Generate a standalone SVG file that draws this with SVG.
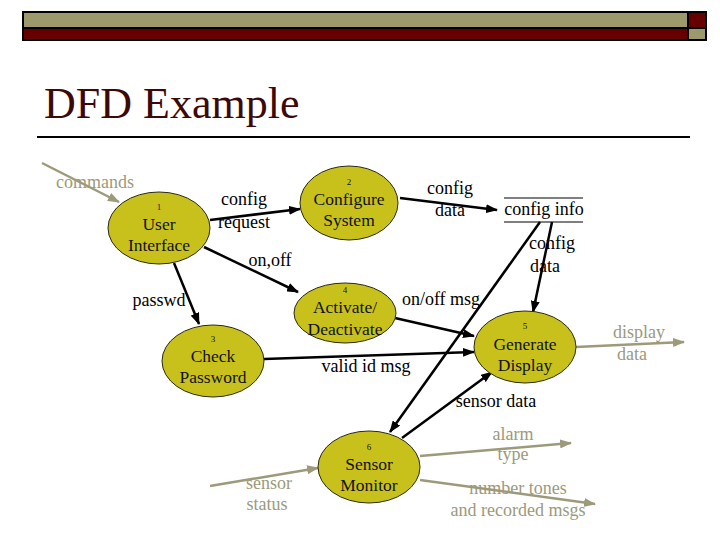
<svg xmlns="http://www.w3.org/2000/svg" width="720" height="540" viewBox="0 0 720 540">
<style>
text{font-family:'Liberation Serif','Times New Roman',Times,serif}
.node{fill:#c8c11c;stroke:#2a2a10;stroke-width:1}
.t{font-size:17.5px;fill:#111;text-anchor:middle}
.num{font-size:9px;fill:#111;text-anchor:middle}
.lab{font-size:18px;fill:#000;text-anchor:middle}
.ext{font-size:18px;fill:#9c9a7a;text-anchor:middle}
.title{font-size:44px;fill:#3d0808}
.f{stroke:#000;stroke-width:2.5;fill:none;marker-end:url(#ab)}
.x{stroke:#9c9a7a;stroke-width:2.5;fill:none;marker-end:url(#ak)}
</style>
<defs>
<marker id="ab" markerUnits="userSpaceOnUse" markerWidth="12" markerHeight="9" refX="11" refY="4.5" orient="auto"><path d="M0,0 L12,4.5 L0,9 z" fill="#000"/></marker>
<marker id="ak" markerUnits="userSpaceOnUse" markerWidth="12" markerHeight="9" refX="11" refY="4.5" orient="auto"><path d="M0,0 L12,4.5 L0,9 z" fill="#9c9a7a"/></marker>
</defs>
<rect width="720" height="540" fill="#fff"/>
<g id="header">
<rect x="22" y="11" width="685" height="30" fill="#000"/>
<rect x="24" y="13" width="663" height="14" fill="#9c9a6c"/>
<rect x="24" y="29" width="663" height="10" fill="#660000"/>
<rect x="689" y="13" width="16" height="14" fill="#660000"/>
<rect x="689" y="29" width="16" height="10" fill="#9c9a6c"/>
<text class="title" x="44" y="118">DFD Example</text>
<line x1="37" y1="137" x2="690" y2="137" stroke="#000" stroke-width="2"/>
</g>
<g id="connectors">
<line class="x" x1="42" y1="163" x2="119" y2="202"/>
<line class="f" x1="210" y1="220" x2="300" y2="209"/>
<line class="f" x1="204" y1="247" x2="298" y2="292"/>
<line class="f" x1="174" y1="263" x2="199" y2="324"/>
<line class="f" x1="400" y1="198" x2="497" y2="210"/>
<line class="f" x1="552" y1="222" x2="533" y2="312"/>
<line class="f" x1="540" y1="222" x2="390" y2="432"/>
<line class="f" x1="395" y1="318" x2="474" y2="336"/>
<line class="f" x1="264" y1="359" x2="474" y2="352"/>
<line class="f" x1="402" y1="438" x2="492" y2="372"/>
<line class="x" x1="576" y1="347" x2="684" y2="342"/>
<line class="x" x1="210" y1="486" x2="318" y2="468"/>
<line class="x" x1="420" y1="456" x2="571" y2="443"/>
<line class="x" x1="420" y1="480" x2="595" y2="504"/>
</g>
<g id="labels">
<text class="ext" x="95" y="188">commands</text>
<text class="lab" x="244" y="205">config</text>
<text class="lab" x="244" y="228">request</text>
<text class="lab" x="270" y="266">on,off</text>
<text class="lab" x="159" y="306">passwd</text>
<text class="lab" x="450" y="194">config</text>
<text class="lab" x="450" y="216">data</text>
<text class="lab" x="552" y="249">config</text>
<text class="lab" x="545" y="272">data</text>
<text class="lab" x="441" y="305">on/off msg</text>
<text class="lab" x="366" y="372">valid id msg</text>
<text class="lab" x="496" y="407">sensor data</text>
<text class="ext" x="639" y="338">display</text>
<text class="ext" x="632" y="360">data</text>
<text class="ext" x="269" y="489">sensor</text>
<text class="ext" x="267" y="510">status</text>
<text class="ext" x="513" y="440">alarm</text>
<text class="ext" x="513" y="460">type</text>
<text class="ext" x="518" y="494">number tones</text>
<text class="ext" x="518" y="516">and recorded msgs</text>
</g>
<g id="store-config-info">
<line x1="504" y1="198" x2="583" y2="198" stroke="#000" stroke-width="1.2"/>
<line x1="504" y1="222" x2="583" y2="222" stroke="#000" stroke-width="1.2"/>
<text class="lab" x="544" y="215">config info</text>
</g>
<g id="node1">
<ellipse class="node" cx="159" cy="228" rx="51" ry="36"/>
<text class="num" x="159" y="210">1</text>
<text class="t" x="159" y="230">User</text>
<text class="t" x="159" y="251">Interface</text>
</g>
<g id="node2">
<ellipse class="node" cx="349" cy="203" rx="49" ry="37"/>
<text class="num" x="349" y="185">2</text>
<text class="t" x="349" y="205">Configure</text>
<text class="t" x="349" y="226">System</text>
</g>
<g id="node3">
<ellipse class="node" cx="213" cy="361" rx="51" ry="36"/>
<text class="num" x="213" y="342">3</text>
<text class="t" x="213" y="362">Check</text>
<text class="t" x="213" y="383">Password</text>
</g>
<g id="node4">
<ellipse class="node" cx="345" cy="313" rx="51" ry="30"/>
<text class="num" x="345" y="293">4</text>
<text class="t" x="345" y="313">Activate/</text>
<text class="t" x="345" y="335">Deactivate</text>
</g>
<g id="node5">
<ellipse class="node" cx="525" cy="347" rx="51" ry="36"/>
<text class="num" x="525" y="329">5</text>
<text class="t" x="525" y="350">Generate</text>
<text class="t" x="525" y="371">Display</text>
</g>
<g id="node6">
<ellipse class="node" cx="369" cy="467" rx="51" ry="36"/>
<text class="num" x="369" y="450">6</text>
<text class="t" x="369" y="470">Sensor</text>
<text class="t" x="369" y="491">Monitor</text>
</g>
</svg>
